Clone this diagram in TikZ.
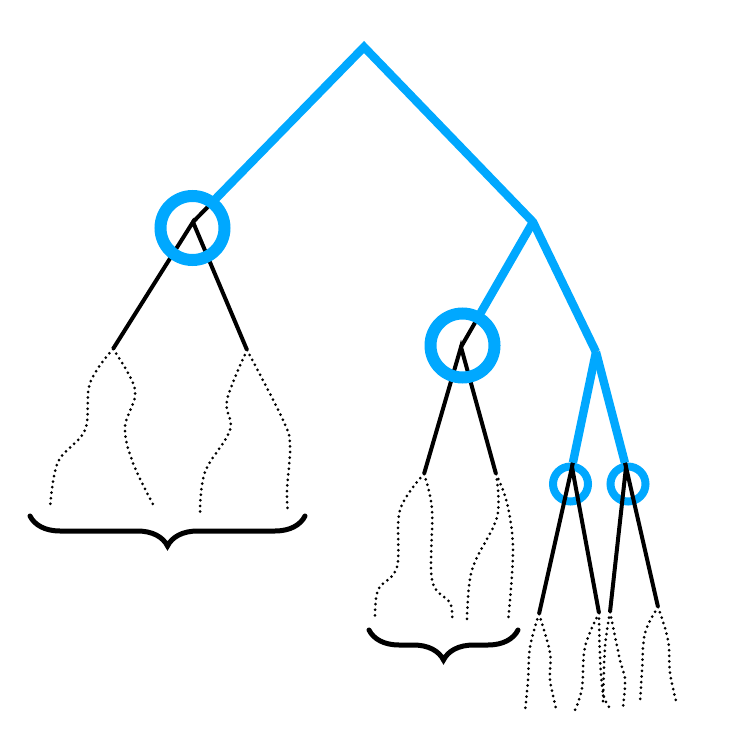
\documentclass[tikz,border=0pt]{standalone}
\usepackage{tikz}
\usetikzlibrary{decorations.pathreplacing}

\definecolor{treeblue}{RGB}{0,168,255}

\begin{document}
\begin{tikzpicture}[
  x=0.5pt, y=-0.5pt,
  bluepath/.style = {draw=treeblue, line width=4.2pt},
  branch/.style = {draw=black, line width=2pt},
  subtree/.style = {draw=black, line width=1.5pt, line cap=round, dash pattern=on 0pt off 2.8pt},
  bigring/.style = {circle, draw=treeblue, line width=6pt, minimum size=32pt, inner sep=0pt},
  smallring/.style = {circle, draw=treeblue, line width=4pt, minimum size=17.5pt, inner sep=0pt},
  curly/.style = {draw=black, line width=2.5pt, line cap=round, decorate, decoration={brace, mirror, amplitude=15pt}}
  ]
  \useasboundingbox (0,0) rectangle (731,748);
  \coordinate (root) at (364,47);
  \coordinate (split) at (533,222);
  \coordinate (fork) at (596,352);
  \coordinate (vA) at (193,222);
  \coordinate (vB) at (461,347);
  \coordinate (vC) at (572,467);
  \coordinate (vD) at (626,467);
  \coordinate (lA1) at (113,349);
  \coordinate (lA2) at (247,350);
  \coordinate (lB1) at (424,474);
  \coordinate (lB2) at (496,474);
  \coordinate (lC1) at (539,614);
  \coordinate (lC2) at (599,613);
  \coordinate (lD1) at (610,612);
  \coordinate (lD2) at (658,607);
  \node[smallring] (ringC) at (570.5,484) {};
  \node[smallring] (ringD) at (628,484) {};
  \draw[branch] (vA) -- (root);
  \draw[branch] (vB) -- (split);
  \draw[branch] (vC) -- (fork);
  \draw[branch] (vD) -- (fork);
  \draw[branch] (lA1) -- (vA) -- (lA2);
  \draw[branch] (lB1) -- (vB) -- (lB2);
  \draw[branch] (lC1) -- (vC) -- (lC2);
  \draw[branch] (lD1) -- (vD) -- (lD2);
  \node[bigring] (ringA) at (192.5,228) {};
  \node[bigring] (ringB) at (462.5,345.5) {};
  \draw[bluepath, shorten <=15.6pt] (vA) -- (root) -- (split) -- (fork);
  \draw[bluepath, shorten >=19.8pt] (split) -- (vB);
  \draw[bluepath, shorten >=2.2pt] (fork) -- (vC);
  \draw[bluepath, shorten >=2.2pt] (fork) -- (vD);
  \draw[subtree] plot[smooth, tension=.6] coordinates {(lA1) (90,383) (85,430) (58,462) (50,508)};
  \draw[subtree] plot[smooth, tension=.6] coordinates {(lA1) (135,390) (125,427) (133,463) (155,508)};
  \draw[subtree] plot[smooth, tension=.6] coordinates {(lA2) (227,400) (230,430) (205,472) (200,512)};
  \draw[subtree] plot[smooth, tension=.6] coordinates {(lA2) (283,420) (290,445) (287,490) (288,512)};
  \draw[subtree] plot[smooth, tension=.6] coordinates {(lB1) (400,510) (397,567) (378,590) (375,620)};
  \draw[subtree] plot[smooth, tension=.6] coordinates {(lB1) (432,510) (432,580) (450,603) (452,622)};
  \draw[subtree] plot[smooth, tension=.6] coordinates {(lB2) (497,517) (472,570) (467,623)};
  \draw[subtree] plot[smooth, tension=.6] coordinates {(lB2) (507,503) (513,550) (508,622)};
  \draw[subtree] plot[smooth, tension=.6] coordinates {(lC1) (530,647) (528,680) (525,712)};
  \draw[subtree] plot[smooth, tension=.6] coordinates {(lC1) (550,653) (550,680) (557,712)};
  \draw[subtree] plot[smooth, tension=.6] coordinates {(lC2) (585,647) (582,688) (575,710)};
  \draw[subtree] plot[smooth, tension=.6] coordinates {(lC2) (600,657) (603,693) (609,707)};
  \draw[subtree] plot[smooth, tension=.6] coordinates {(lD1) (605,647) (603,703)};
  \draw[subtree] plot[smooth, tension=.6] coordinates {(lD1) (620,660) (625,680) (623,707)};
  \draw[subtree] plot[smooth, tension=.6] coordinates {(lD2) (645,633) (642,670) (640,703)};
  \draw[subtree] plot[smooth, tension=.6] coordinates {(lD2) (668,640) (670,673) (677,705)};
  \coordinate (braceA1) at (30,516);
  \coordinate (braceA2) at (305,516);
  \coordinate (braceB1) at (369,630);
  \coordinate (braceB2) at (518,630);
  \draw[curly] (braceA1) -- (braceA2);
  \draw[curly] (braceB1) -- (braceB2);
\end{tikzpicture}
\end{document}
